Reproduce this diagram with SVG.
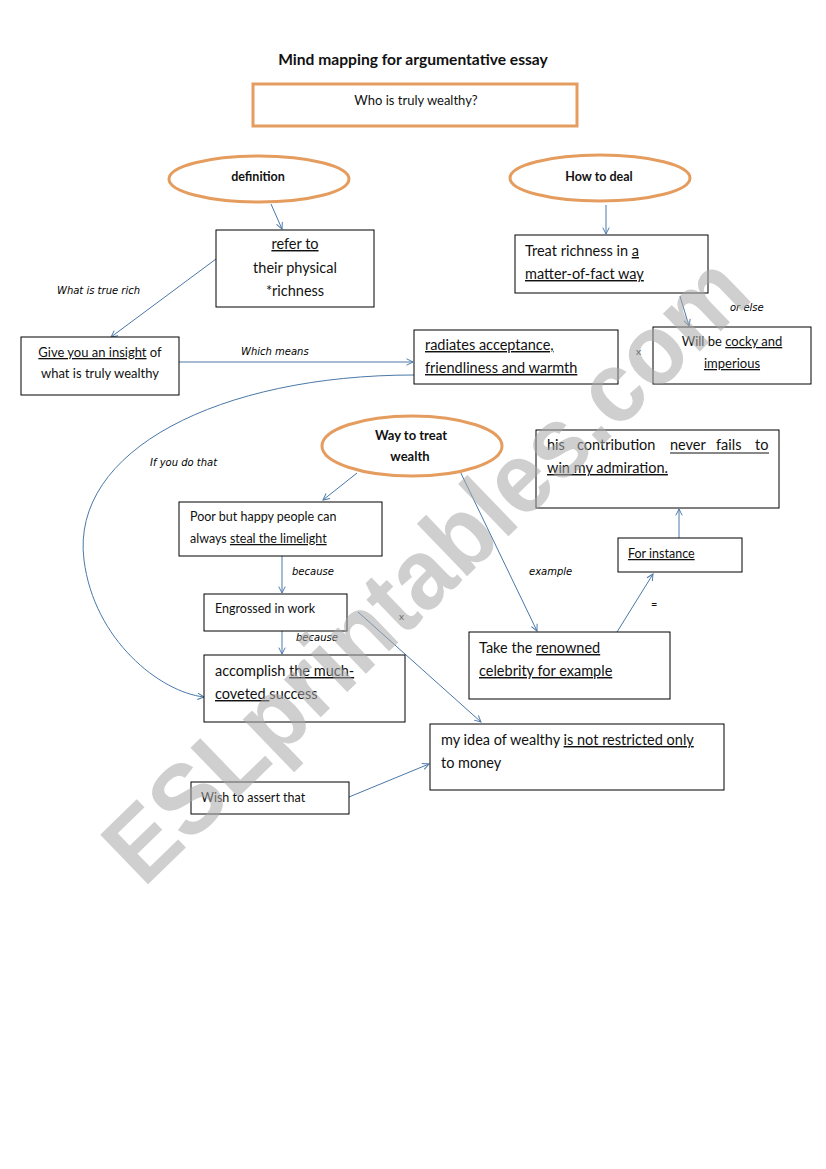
<svg xmlns="http://www.w3.org/2000/svg" width="826" height="1169" viewBox="0 0 826 1169">
<style>
.bg{fill:#fff}
.box{fill:#fff;stroke:#000;stroke-width:1}
.obox{fill:#fff;stroke:#E59D5F;stroke-width:3}
.ell{fill:#fff;stroke:#E59D5F;stroke-width:3}
.t{font-family:Lato,"Liberation Sans",sans-serif;fill:#111}
.b{font-weight:bold}
.lbl{font-family:"DejaVu Sans",sans-serif;font-style:italic;font-size:10px;fill:#000}
.u{text-decoration:underline}
.c{fill:none;stroke:#4A78A8;stroke-width:1}
.ul{stroke:#111;stroke-width:1}
.wm{font-family:"Liberation Sans",sans-serif;font-weight:bold;fill:#a8a8a8;opacity:0.55}
</style>
<defs>
<marker id="ah" viewBox="0 0 10 10" refX="9" refY="5" markerWidth="8" markerHeight="8" orient="auto" markerUnits="userSpaceOnUse">
<path d="M1,1 L9,5 L1,9" fill="none" stroke="#4A78A8" stroke-width="1.2"/>
</marker>
</defs>
<rect class="bg" x="0" y="0" width="826" height="1169"/>
<text class="t b" x="413" y="65" font-size="15.6" text-anchor="middle">Mind mapping for argumentative essay</text>

<g id="connectors">
<path class="c" d="M271,204 L282,229" marker-end="url(#ah)"/>
<path class="c" d="M606,205 L606,234" marker-end="url(#ah)"/>
<path class="c" d="M216,259 L111,337" marker-end="url(#ah)"/>
<path class="c" d="M179,362 L413,362" marker-end="url(#ah)"/>
<path class="c" d="M680,296 L689,326" marker-end="url(#ah)"/>
<path class="c" d="M414,375 C220,375 70,450 84,560 C94,640 160,692 204,697" marker-end="url(#ah)"/>
<path class="c" d="M357,473 L323,500" marker-end="url(#ah)"/>
<path class="c" d="M282,556 L282,593" marker-end="url(#ah)"/>
<path class="c" d="M282,631 L282,654" marker-end="url(#ah)"/>
<path class="c" d="M358,612 L481,722" marker-end="url(#ah)"/>
<path class="c" d="M457,465 L537,631" marker-end="url(#ah)"/>
<path class="c" d="M617,632 L653,574" marker-end="url(#ah)"/>
<path class="c" d="M679,538 L679,509" marker-end="url(#ah)"/>
<path class="c" d="M349,797 L429,764" marker-end="url(#ah)"/>
<text class="lbl" x="57" y="294">What is true rich</text>
<text class="lbl" x="241" y="355">Which means</text>
<text class="lbl" x="730" y="311">or else</text>
<text class="lbl" x="150" y="466">If you do that</text>
<text class="lbl" x="292" y="575">because</text>
<text class="lbl" x="296" y="641">because</text>
<text class="lbl" x="529" y="575">example</text>
<text class="t" x="636" y="355" font-size="10">x</text>
<text class="t" x="399" y="620" font-size="10">x</text>
<text class="t" x="651" y="608" font-size="11">=</text>
</g>

<g id="question">
<rect class="obox" x="253" y="84" width="324" height="42"/>
<text class="t" x="416" y="105" font-size="13" text-anchor="middle">Who is truly wealthy?</text>
</g>

<g id="definition">
<ellipse class="ell" cx="259" cy="179" rx="90" ry="23"/>
<text class="t b" x="258" y="181" font-size="12.5" text-anchor="middle" font-family="Liberation Sans">definition</text>
</g>

<g id="how-to-deal">
<ellipse class="ell" cx="600" cy="178" rx="90" ry="23"/>
<text class="t b" x="599" y="181" font-size="12.5" text-anchor="middle" font-family="Liberation Sans">How to deal</text>
</g>

<g id="refer-to">
<rect class="box" x="216" y="230" width="158" height="77"/>
<text class="t" x="295" y="249" font-size="14.5" text-anchor="middle"><tspan class="u">refer to</tspan></text>
<text class="t" x="295" y="273" font-size="14.5" text-anchor="middle">their physical</text>
<text class="t" x="295" y="296" font-size="14.5" text-anchor="middle">*richness</text>
</g>

<g id="treat-richness">
<rect class="box" x="515" y="235" width="193" height="58"/>
<text class="t" x="525" y="256" font-size="14.5">Treat richness in <tspan class="u">a</tspan></text>
<text class="t" x="525" y="279" font-size="14.5"><tspan class="u">matter-of-fact way</tspan></text>
</g>

<g id="cocky">
<rect class="box" x="653" y="327" width="158" height="57"/>
<text class="t" x="732" y="346" font-size="13" text-anchor="middle">Will be <tspan class="u">cocky  and</tspan></text>
<text class="t" x="732" y="368" font-size="13" text-anchor="middle"><tspan class="u">imperious</tspan></text>
</g>

<g id="insight">
<rect class="box" x="21" y="337" width="158" height="58"/>
<text class="t" x="100" y="357" font-size="13" text-anchor="middle"><tspan class="u">Give you an insight</tspan> of</text>
<text class="t" x="100" y="378" font-size="13" text-anchor="middle">what is truly wealthy</text>
</g>

<g id="radiates">
<rect class="box" x="414" y="330" width="204" height="54"/>
<text class="t" x="425" y="350" font-size="14.5"><tspan class="u">radiates acceptance,</tspan></text>
<text class="t" x="425" y="373" font-size="14.5"><tspan class="u">friendliness and warmth</tspan></text>
</g>

<g id="way-to-treat">
<ellipse class="ell" cx="412" cy="446" rx="90" ry="30"/>
<text class="t b" x="411" y="440" font-size="13" text-anchor="middle">Way to treat</text>
<text class="t b" x="410" y="461" font-size="13" text-anchor="middle">wealth</text>
</g>

<g id="contribution">
<rect class="box" x="536" y="430" width="243" height="78"/>
<text class="t" y="450" font-size="14.5"><tspan x="547">his</tspan><tspan x="577">contribution</tspan><tspan x="670">never</tspan><tspan x="716">fails</tspan><tspan x="755">to</tspan></text>
<line class="ul" x1="670" y1="453" x2="769" y2="453"/>
<text class="t" x="547" y="473" font-size="14.5"><tspan class="u">win my admiration.</tspan></text>
</g>

<g id="poor-but-happy">
<rect class="box" x="179" y="502" width="203" height="54"/>
<text class="t" x="190" y="521" font-size="12.5">Poor but happy people can</text>
<text class="t" x="190" y="543" font-size="12.5">always <tspan class="u">steal the limelight</tspan></text>
</g>

<g id="for-instance">
<rect class="box" x="618" y="538" width="124" height="34"/>
<text class="t" x="628" y="558" font-size="12.5"><tspan class="u">For instance</tspan></text>
</g>

<g id="engrossed">
<rect class="box" x="204" y="594" width="143" height="37"/>
<text class="t" x="215" y="613" font-size="12.5">Engrossed in work</text>
</g>

<g id="celebrity">
<rect class="box" x="469" y="632" width="201" height="67"/>
<text class="t" x="479" y="653" font-size="14.5">Take the <tspan class="u">renowned</tspan></text>
<text class="t" x="479" y="676" font-size="14.5"><tspan class="u">celebrity for example</tspan></text>
</g>

<g id="accomplish">
<rect class="box" x="204" y="655" width="201" height="67"/>
<text class="t" x="215" y="676" font-size="14.5">accomplish <tspan class="u">the much-</tspan></text>
<text class="t" x="215" y="699" font-size="14.5"><tspan class="u">coveted </tspan>success</text>
</g>

<g id="my-idea">
<rect class="box" x="430" y="724" width="294" height="66"/>
<text class="t" x="441" y="745" font-size="14.5">my idea of wealthy <tspan class="u">is not restricted only</tspan></text>
<text class="t" x="441" y="768" font-size="14.5">to money</text>
</g>

<g id="wish">
<rect class="box" x="191" y="782" width="158" height="32"/>
<text class="t" x="201" y="802" font-size="12.5">Wish to assert that</text>
</g>

<text class="wm" x="425" y="568" font-size="100" text-anchor="middle" dominant-baseline="central" textLength="850" lengthAdjust="spacingAndGlyphs" transform="rotate(-44 425 568)">ESLprintables.com</text>
</svg>
